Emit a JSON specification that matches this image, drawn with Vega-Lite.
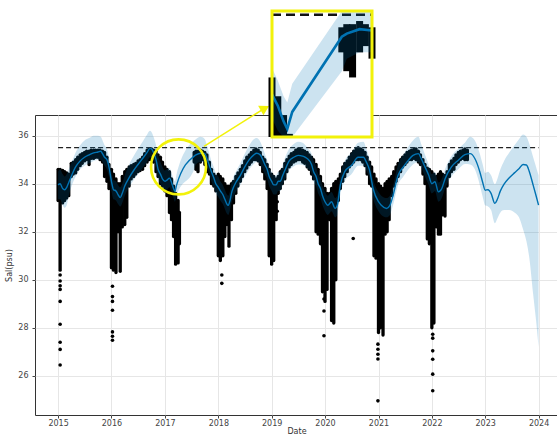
{
  "$schema": "https://vega.github.io/schema/vega-lite/v6.json",
  "width": 523,
  "height": 300,
  "autosize": {"type": "none"},
  "padding": {"left": 35, "top": 115, "right": 0, "bottom": 24},
  "background": "white",
  "config": {
    "font": "DejaVu Sans",
    "view": {"stroke": "#333333", "strokeWidth": 1},
    "axis": {
      "labelFont": "DejaVu Sans", "labelFontSize": 8, "labelColor": "#444444",
      "titleFont": "DejaVu Sans", "titleFontSize": 8, "titleFontWeight": "normal", "titleColor": "#333333",
      "tickColor": "#444444", "tickSize": 3, "gridColor": "#e6e6e6", "gridWidth": 1, "domain": false
    }
  },
  "datasets": {
    "fcst": [
      {"ds": "2015-01-01", "yhat": 33.95, "yhat_lower": 33.35, "yhat_upper": 34.5, "cap": 35.5},
      {"ds": "2015-01-15", "yhat": 34.0, "yhat_lower": 33.35, "yhat_upper": 34.6, "cap": 35.5},
      {"ds": "2015-02-01", "yhat": 33.8, "yhat_lower": 33.1, "yhat_upper": 34.4, "cap": 35.5},
      {"ds": "2015-02-15", "yhat": 33.75, "yhat_lower": 33.0, "yhat_upper": 34.3, "cap": 35.5},
      {"ds": "2015-03-01", "yhat": 33.85, "yhat_lower": 33.1, "yhat_upper": 34.4, "cap": 35.5},
      {"ds": "2015-03-15", "yhat": 34.05, "yhat_lower": 33.5, "yhat_upper": 34.6, "cap": 35.5},
      {"ds": "2015-04-01", "yhat": 34.3, "yhat_lower": 33.85, "yhat_upper": 34.85, "cap": 35.5},
      {"ds": "2015-05-01", "yhat": 34.7, "yhat_lower": 34.3, "yhat_upper": 35.3, "cap": 35.5},
      {"ds": "2015-06-01", "yhat": 34.95, "yhat_lower": 34.6, "yhat_upper": 35.6, "cap": 35.5},
      {"ds": "2015-07-01", "yhat": 35.1, "yhat_lower": 34.75, "yhat_upper": 35.8, "cap": 35.5},
      {"ds": "2015-08-01", "yhat": 35.2, "yhat_lower": 34.85, "yhat_upper": 35.9, "cap": 35.5},
      {"ds": "2015-09-01", "yhat": 35.28, "yhat_lower": 34.95, "yhat_upper": 36.0, "cap": 35.5},
      {"ds": "2015-10-01", "yhat": 35.32, "yhat_lower": 35.0, "yhat_upper": 36.0, "cap": 35.5},
      {"ds": "2015-10-20", "yhat": 35.35, "yhat_lower": 35.0, "yhat_upper": 35.95, "cap": 35.5},
      {"ds": "2015-11-01", "yhat": 35.25, "yhat_lower": 34.9, "yhat_upper": 35.8, "cap": 35.5},
      {"ds": "2015-11-15", "yhat": 35.1, "yhat_lower": 34.75, "yhat_upper": 35.6, "cap": 35.5},
      {"ds": "2015-12-01", "yhat": 35.0, "yhat_lower": 34.6, "yhat_upper": 35.45, "cap": 35.5},
      {"ds": "2015-12-15", "yhat": 34.7, "yhat_lower": 34.3, "yhat_upper": 35.1, "cap": 35.5},
      {"ds": "2016-01-01", "yhat": 34.1, "yhat_lower": 33.7, "yhat_upper": 34.5, "cap": 35.5},
      {"ds": "2016-01-15", "yhat": 33.75, "yhat_lower": 33.35, "yhat_upper": 34.15, "cap": 35.5},
      {"ds": "2016-02-01", "yhat": 33.7, "yhat_lower": 33.3, "yhat_upper": 34.1, "cap": 35.5},
      {"ds": "2016-02-15", "yhat": 33.55, "yhat_lower": 33.15, "yhat_upper": 33.95, "cap": 35.5},
      {"ds": "2016-03-01", "yhat": 33.42, "yhat_lower": 33.05, "yhat_upper": 33.85, "cap": 35.5},
      {"ds": "2016-03-15", "yhat": 33.6, "yhat_lower": 33.2, "yhat_upper": 34.0, "cap": 35.5},
      {"ds": "2016-04-01", "yhat": 33.9, "yhat_lower": 33.5, "yhat_upper": 34.35, "cap": 35.5},
      {"ds": "2016-05-01", "yhat": 34.25, "yhat_lower": 33.85, "yhat_upper": 34.8, "cap": 35.5},
      {"ds": "2016-06-01", "yhat": 34.55, "yhat_lower": 34.15, "yhat_upper": 35.15, "cap": 35.5},
      {"ds": "2016-07-01", "yhat": 34.8, "yhat_lower": 34.4, "yhat_upper": 35.45, "cap": 35.5},
      {"ds": "2016-08-01", "yhat": 35.05, "yhat_lower": 34.65, "yhat_upper": 35.75, "cap": 35.5},
      {"ds": "2016-09-01", "yhat": 35.3, "yhat_lower": 34.9, "yhat_upper": 36.05, "cap": 35.5},
      {"ds": "2016-09-20", "yhat": 35.47, "yhat_lower": 35.1, "yhat_upper": 36.2, "cap": 35.5},
      {"ds": "2016-10-01", "yhat": 35.45, "yhat_lower": 35.1, "yhat_upper": 36.15, "cap": 35.5},
      {"ds": "2016-10-15", "yhat": 35.3, "yhat_lower": 34.95, "yhat_upper": 35.95, "cap": 35.5},
      {"ds": "2016-11-01", "yhat": 35.0, "yhat_lower": 34.6, "yhat_upper": 35.6, "cap": 35.5},
      {"ds": "2016-11-15", "yhat": 34.6, "yhat_lower": 34.2, "yhat_upper": 35.15, "cap": 35.5},
      {"ds": "2016-12-01", "yhat": 34.4, "yhat_lower": 34.0, "yhat_upper": 34.9, "cap": 35.5},
      {"ds": "2016-12-15", "yhat": 34.2, "yhat_lower": 33.8, "yhat_upper": 34.7, "cap": 35.5},
      {"ds": "2017-01-01", "yhat": 34.1, "yhat_lower": 33.7, "yhat_upper": 34.55, "cap": 35.5},
      {"ds": "2017-01-15", "yhat": 34.15, "yhat_lower": 33.75, "yhat_upper": 34.6, "cap": 35.5},
      {"ds": "2017-02-01", "yhat": 34.23, "yhat_lower": 33.85, "yhat_upper": 34.65, "cap": 35.5},
      {"ds": "2017-02-15", "yhat": 34.05, "yhat_lower": 33.65, "yhat_upper": 34.45, "cap": 35.5},
      {"ds": "2017-03-01", "yhat": 33.8, "yhat_lower": 33.4, "yhat_upper": 34.2, "cap": 35.5},
      {"ds": "2017-03-10", "yhat": 33.68, "yhat_lower": 33.25, "yhat_upper": 34.1, "cap": 35.5},
      {"ds": "2017-03-22", "yhat": 33.95, "yhat_lower": 33.5, "yhat_upper": 34.4, "cap": 35.5},
      {"ds": "2017-07-20", "yhat": 35.15, "yhat_lower": 34.6, "yhat_upper": 35.8, "cap": 35.5},
      {"ds": "2017-08-01", "yhat": 35.2, "yhat_lower": 34.8, "yhat_upper": 35.85, "cap": 35.5},
      {"ds": "2017-09-01", "yhat": 35.27, "yhat_lower": 34.9, "yhat_upper": 35.95, "cap": 35.5},
      {"ds": "2017-10-01", "yhat": 35.25, "yhat_lower": 34.9, "yhat_upper": 35.85, "cap": 35.5},
      {"ds": "2017-10-15", "yhat": 35.05, "yhat_lower": 34.7, "yhat_upper": 35.6, "cap": 35.5},
      {"ds": "2017-11-01", "yhat": 34.75, "yhat_lower": 34.4, "yhat_upper": 35.25, "cap": 35.5},
      {"ds": "2017-11-15", "yhat": 34.5, "yhat_lower": 34.1, "yhat_upper": 34.95, "cap": 35.5},
      {"ds": "2017-12-01", "yhat": 34.25, "yhat_lower": 33.85, "yhat_upper": 34.7, "cap": 35.5},
      {"ds": "2017-12-15", "yhat": 34.0, "yhat_lower": 33.6, "yhat_upper": 34.45, "cap": 35.5},
      {"ds": "2018-01-01", "yhat": 33.85, "yhat_lower": 33.45, "yhat_upper": 34.3, "cap": 35.5},
      {"ds": "2018-01-15", "yhat": 33.7, "yhat_lower": 33.3, "yhat_upper": 34.1, "cap": 35.5},
      {"ds": "2018-02-01", "yhat": 33.55, "yhat_lower": 33.15, "yhat_upper": 33.95, "cap": 35.5},
      {"ds": "2018-02-15", "yhat": 33.35, "yhat_lower": 32.95, "yhat_upper": 33.75, "cap": 35.5},
      {"ds": "2018-03-01", "yhat": 33.15, "yhat_lower": 32.75, "yhat_upper": 33.55, "cap": 35.5},
      {"ds": "2018-03-10", "yhat": 33.1, "yhat_lower": 32.7, "yhat_upper": 33.5, "cap": 35.5},
      {"ds": "2018-03-22", "yhat": 33.3, "yhat_lower": 32.9, "yhat_upper": 33.7, "cap": 35.5},
      {"ds": "2018-04-01", "yhat": 33.6, "yhat_lower": 33.2, "yhat_upper": 34.0, "cap": 35.5},
      {"ds": "2018-04-15", "yhat": 33.85, "yhat_lower": 33.45, "yhat_upper": 34.3, "cap": 35.5},
      {"ds": "2018-05-01", "yhat": 34.05, "yhat_lower": 33.65, "yhat_upper": 34.5, "cap": 35.5},
      {"ds": "2018-06-01", "yhat": 34.35, "yhat_lower": 33.95, "yhat_upper": 34.85, "cap": 35.5},
      {"ds": "2018-07-01", "yhat": 34.7, "yhat_lower": 34.3, "yhat_upper": 35.25, "cap": 35.5},
      {"ds": "2018-08-01", "yhat": 35.0, "yhat_lower": 34.6, "yhat_upper": 35.6, "cap": 35.5},
      {"ds": "2018-09-01", "yhat": 35.2, "yhat_lower": 34.82, "yhat_upper": 35.85, "cap": 35.5},
      {"ds": "2018-09-20", "yhat": 35.27, "yhat_lower": 34.9, "yhat_upper": 35.9, "cap": 35.5},
      {"ds": "2018-10-15", "yhat": 35.2, "yhat_lower": 34.82, "yhat_upper": 35.75, "cap": 35.5},
      {"ds": "2018-11-01", "yhat": 35.0, "yhat_lower": 34.6, "yhat_upper": 35.5, "cap": 35.5},
      {"ds": "2018-11-15", "yhat": 34.8, "yhat_lower": 34.4, "yhat_upper": 35.25, "cap": 35.5},
      {"ds": "2018-12-01", "yhat": 34.6, "yhat_lower": 34.2, "yhat_upper": 35.0, "cap": 35.5},
      {"ds": "2018-12-15", "yhat": 34.3, "yhat_lower": 33.9, "yhat_upper": 34.7, "cap": 35.5},
      {"ds": "2019-01-01", "yhat": 34.1, "yhat_lower": 33.7, "yhat_upper": 34.5, "cap": 35.5},
      {"ds": "2019-01-15", "yhat": 33.95, "yhat_lower": 33.55, "yhat_upper": 34.35, "cap": 35.5},
      {"ds": "2019-02-01", "yhat": 33.95, "yhat_lower": 33.55, "yhat_upper": 34.35, "cap": 35.5},
      {"ds": "2019-02-15", "yhat": 34.1, "yhat_lower": 33.7, "yhat_upper": 34.5, "cap": 35.5},
      {"ds": "2019-03-01", "yhat": 34.1, "yhat_lower": 33.7, "yhat_upper": 34.5, "cap": 35.5},
      {"ds": "2019-03-15", "yhat": 34.3, "yhat_lower": 33.9, "yhat_upper": 34.75, "cap": 35.5},
      {"ds": "2019-04-01", "yhat": 34.55, "yhat_lower": 34.15, "yhat_upper": 35.05, "cap": 35.5},
      {"ds": "2019-05-01", "yhat": 34.95, "yhat_lower": 34.55, "yhat_upper": 35.45, "cap": 35.5},
      {"ds": "2019-06-01", "yhat": 35.1, "yhat_lower": 34.72, "yhat_upper": 35.65, "cap": 35.5},
      {"ds": "2019-07-01", "yhat": 35.18, "yhat_lower": 34.8, "yhat_upper": 35.75, "cap": 35.5},
      {"ds": "2019-08-01", "yhat": 35.15, "yhat_lower": 34.78, "yhat_upper": 35.7, "cap": 35.5},
      {"ds": "2019-08-20", "yhat": 35.1, "yhat_lower": 34.72, "yhat_upper": 35.6, "cap": 35.5},
      {"ds": "2019-09-01", "yhat": 35.05, "yhat_lower": 34.65, "yhat_upper": 35.5, "cap": 35.5},
      {"ds": "2019-10-01", "yhat": 34.8, "yhat_lower": 34.42, "yhat_upper": 35.25, "cap": 35.5},
      {"ds": "2019-10-15", "yhat": 34.5, "yhat_lower": 34.1, "yhat_upper": 34.95, "cap": 35.5},
      {"ds": "2019-11-01", "yhat": 34.3, "yhat_lower": 33.9, "yhat_upper": 34.7, "cap": 35.5},
      {"ds": "2019-11-15", "yhat": 34.0, "yhat_lower": 33.6, "yhat_upper": 34.4, "cap": 35.5},
      {"ds": "2019-12-01", "yhat": 33.8, "yhat_lower": 33.4, "yhat_upper": 34.2, "cap": 35.5},
      {"ds": "2019-12-15", "yhat": 33.5, "yhat_lower": 33.1, "yhat_upper": 33.9, "cap": 35.5},
      {"ds": "2020-01-01", "yhat": 33.25, "yhat_lower": 32.85, "yhat_upper": 33.65, "cap": 35.5},
      {"ds": "2020-01-20", "yhat": 33.1, "yhat_lower": 32.7, "yhat_upper": 33.5, "cap": 35.5},
      {"ds": "2020-02-15", "yhat": 33.25, "yhat_lower": 32.85, "yhat_upper": 33.65, "cap": 35.5},
      {"ds": "2020-03-10", "yhat": 32.97, "yhat_lower": 32.6, "yhat_upper": 33.4, "cap": 35.5},
      {"ds": "2020-03-25", "yhat": 33.1, "yhat_lower": 32.7, "yhat_upper": 33.5, "cap": 35.5},
      {"ds": "2020-04-15", "yhat": 33.94, "yhat_lower": 33.55, "yhat_upper": 34.35, "cap": 35.5},
      {"ds": "2020-05-15", "yhat": 34.5, "yhat_lower": 34.1, "yhat_upper": 34.95, "cap": 35.5},
      {"ds": "2020-07-01", "yhat": 34.77, "yhat_lower": 34.4, "yhat_upper": 35.3, "cap": 35.5},
      {"ds": "2020-08-15", "yhat": 35.1, "yhat_lower": 34.75, "yhat_upper": 35.7, "cap": 35.5},
      {"ds": "2020-09-20", "yhat": 35.1, "yhat_lower": 34.75, "yhat_upper": 35.75, "cap": 35.5},
      {"ds": "2020-10-10", "yhat": 34.9, "yhat_lower": 34.55, "yhat_upper": 35.45, "cap": 35.5},
      {"ds": "2020-11-01", "yhat": 34.56, "yhat_lower": 34.2, "yhat_upper": 35.0, "cap": 35.5},
      {"ds": "2020-11-25", "yhat": 33.8, "yhat_lower": 33.4, "yhat_upper": 34.2, "cap": 35.5},
      {"ds": "2021-01-01", "yhat": 33.25, "yhat_lower": 32.85, "yhat_upper": 33.65, "cap": 35.5},
      {"ds": "2021-01-20", "yhat": 33.1, "yhat_lower": 32.7, "yhat_upper": 33.5, "cap": 35.5},
      {"ds": "2021-02-25", "yhat": 32.97, "yhat_lower": 32.6, "yhat_upper": 33.4, "cap": 35.5},
      {"ds": "2021-03-20", "yhat": 33.1, "yhat_lower": 32.7, "yhat_upper": 33.5, "cap": 35.5},
      {"ds": "2021-04-10", "yhat": 33.5, "yhat_lower": 33.1, "yhat_upper": 33.9, "cap": 35.5},
      {"ds": "2021-05-15", "yhat": 34.35, "yhat_lower": 33.95, "yhat_upper": 34.8, "cap": 35.5},
      {"ds": "2021-06-20", "yhat": 34.7, "yhat_lower": 34.3, "yhat_upper": 35.2, "cap": 35.5},
      {"ds": "2021-07-25", "yhat": 34.98, "yhat_lower": 34.6, "yhat_upper": 35.55, "cap": 35.5},
      {"ds": "2021-08-25", "yhat": 35.18, "yhat_lower": 34.8, "yhat_upper": 35.8, "cap": 35.5},
      {"ds": "2021-10-01", "yhat": 35.25, "yhat_lower": 34.9, "yhat_upper": 35.95, "cap": 35.5},
      {"ds": "2021-10-20", "yhat": 35.05, "yhat_lower": 34.7, "yhat_upper": 35.65, "cap": 35.5},
      {"ds": "2021-11-15", "yhat": 34.7, "yhat_lower": 34.3, "yhat_upper": 35.2, "cap": 35.5},
      {"ds": "2021-12-10", "yhat": 34.36, "yhat_lower": 33.95, "yhat_upper": 34.8, "cap": 35.5},
      {"ds": "2022-01-01", "yhat": 34.0, "yhat_lower": 33.6, "yhat_upper": 34.4, "cap": 35.5},
      {"ds": "2022-01-22", "yhat": 34.08, "yhat_lower": 33.7, "yhat_upper": 34.5, "cap": 35.5},
      {"ds": "2022-02-15", "yhat": 33.66, "yhat_lower": 33.25, "yhat_upper": 34.05, "cap": 35.5},
      {"ds": "2022-03-10", "yhat": 33.8, "yhat_lower": 33.4, "yhat_upper": 34.2, "cap": 35.5},
      {"ds": "2022-04-01", "yhat": 34.2, "yhat_lower": 33.8, "yhat_upper": 34.6, "cap": 35.5},
      {"ds": "2022-05-15", "yhat": 34.7, "yhat_lower": 34.3, "yhat_upper": 35.15, "cap": 35.5},
      {"ds": "2022-07-01", "yhat": 34.98, "yhat_lower": 34.6, "yhat_upper": 35.45, "cap": 35.5},
      {"ds": "2022-08-15", "yhat": 35.21, "yhat_lower": 34.82, "yhat_upper": 35.7, "cap": 35.5},
      {"ds": "2022-09-20", "yhat": 35.25, "yhat_lower": 34.8, "yhat_upper": 35.95, "cap": 35.5},
      {"ds": "2022-10-22", "yhat": 35.05, "yhat_lower": 34.6, "yhat_upper": 35.8, "cap": 35.5},
      {"ds": "2022-11-25", "yhat": 34.5, "yhat_lower": 33.95, "yhat_upper": 35.25, "cap": 35.5},
      {"ds": "2022-12-15", "yhat": 34.05, "yhat_lower": 33.45, "yhat_upper": 34.8, "cap": 35.5},
      {"ds": "2023-01-01", "yhat": 33.73, "yhat_lower": 33.1, "yhat_upper": 34.45, "cap": 35.5},
      {"ds": "2023-01-20", "yhat": 33.75, "yhat_lower": 33.05, "yhat_upper": 34.5, "cap": 35.5},
      {"ds": "2023-02-10", "yhat": 33.6, "yhat_lower": 32.9, "yhat_upper": 34.35, "cap": 35.5},
      {"ds": "2023-03-08", "yhat": 33.18, "yhat_lower": 32.35, "yhat_upper": 33.98, "cap": 35.5},
      {"ds": "2023-03-25", "yhat": 33.35, "yhat_lower": 32.55, "yhat_upper": 34.2, "cap": 35.5},
      {"ds": "2023-04-15", "yhat": 33.7, "yhat_lower": 32.8, "yhat_upper": 34.6, "cap": 35.5},
      {"ds": "2023-05-10", "yhat": 33.98, "yhat_lower": 32.9, "yhat_upper": 34.95, "cap": 35.5},
      {"ds": "2023-06-15", "yhat": 34.25, "yhat_lower": 32.9, "yhat_upper": 35.3, "cap": 35.5},
      {"ds": "2023-07-20", "yhat": 34.45, "yhat_lower": 32.8, "yhat_upper": 35.6, "cap": 35.5},
      {"ds": "2023-08-20", "yhat": 34.62, "yhat_lower": 32.6, "yhat_upper": 35.85, "cap": 35.5},
      {"ds": "2023-09-17", "yhat": 34.8, "yhat_lower": 32.1, "yhat_upper": 36.05, "cap": 35.5},
      {"ds": "2023-10-10", "yhat": 34.78, "yhat_lower": 31.6, "yhat_upper": 35.95, "cap": 35.5},
      {"ds": "2023-10-30", "yhat": 34.5, "yhat_lower": 30.9, "yhat_upper": 35.65, "cap": 35.5},
      {"ds": "2023-11-25", "yhat": 33.94, "yhat_lower": 29.4, "yhat_upper": 35.1, "cap": 35.5},
      {"ds": "2023-12-15", "yhat": 33.5, "yhat_lower": 28.3, "yhat_upper": 34.7, "cap": 35.5},
      {"ds": "2024-01-01", "yhat": 33.11, "yhat_lower": 27.2, "yhat_upper": 34.35, "cap": 35.5}
    ],
    "obs": [
      {"ds": "2015-01-01", "y_min": 33.3, "y_max": 34.6},
      {"ds": "2015-01-15", "y_min": 30.4, "y_max": 34.6},
      {"ds": "2015-02-01", "y_min": 33.2, "y_max": 34.55},
      {"ds": "2015-02-15", "y_min": 33.3, "y_max": 34.5},
      {"ds": "2015-03-01", "y_min": 33.4, "y_max": 34.45},
      {"ds": "2015-03-15", "y_min": 33.5, "y_max": 34.4},
      {"ds": "2015-04-01", "y_min": 34.3, "y_max": 34.85},
      {"ds": "2015-04-15", "y_min": 34.4, "y_max": 34.9},
      {"ds": "2015-05-01", "y_min": 34.45, "y_max": 35.0},
      {"ds": "2015-05-15", "y_min": 34.6, "y_max": 35.1},
      {"ds": "2015-06-01", "y_min": 34.75, "y_max": 35.2},
      {"ds": "2015-06-15", "y_min": 34.85, "y_max": 35.25},
      {"ds": "2015-07-01", "y_min": 34.95, "y_max": 35.3},
      {"ds": "2015-07-15", "y_min": 35.0, "y_max": 35.35},
      {"ds": "2015-08-01", "y_min": 34.8, "y_max": 35.35},
      {"ds": "2015-08-15", "y_min": 35.05, "y_max": 35.4},
      {"ds": "2015-09-01", "y_min": 35.05, "y_max": 35.4},
      {"ds": "2015-09-15", "y_min": 35.1, "y_max": 35.4},
      {"ds": "2015-10-01", "y_min": 35.1, "y_max": 35.4},
      {"ds": "2015-10-15", "y_min": 35.0, "y_max": 35.4},
      {"ds": "2015-11-01", "y_min": 34.9, "y_max": 35.35},
      {"ds": "2015-11-15", "y_min": 34.3, "y_max": 35.3},
      {"ds": "2015-12-01", "y_min": 34.1, "y_max": 35.1},
      {"ds": "2015-12-15", "y_min": 33.8, "y_max": 34.8},
      {"ds": "2016-01-01", "y_min": 30.5, "y_max": 34.6},
      {"ds": "2016-01-15", "y_min": 30.4, "y_max": 34.4},
      {"ds": "2016-02-01", "y_min": 30.3, "y_max": 34.2},
      {"ds": "2016-02-15", "y_min": 32.0, "y_max": 34.0},
      {"ds": "2016-03-01", "y_min": 30.35, "y_max": 34.0},
      {"ds": "2016-03-15", "y_min": 32.2, "y_max": 34.3},
      {"ds": "2016-04-01", "y_min": 32.3, "y_max": 34.5},
      {"ds": "2016-04-15", "y_min": 32.6, "y_max": 34.6},
      {"ds": "2016-05-01", "y_min": 33.9, "y_max": 34.7},
      {"ds": "2016-05-15", "y_min": 34.2, "y_max": 34.75},
      {"ds": "2016-06-01", "y_min": 34.3, "y_max": 34.8},
      {"ds": "2016-06-15", "y_min": 34.4, "y_max": 34.85},
      {"ds": "2016-07-01", "y_min": 34.5, "y_max": 34.95},
      {"ds": "2016-07-15", "y_min": 34.55, "y_max": 35.0},
      {"ds": "2016-08-01", "y_min": 34.6, "y_max": 35.1},
      {"ds": "2016-08-15", "y_min": 34.75, "y_max": 35.25},
      {"ds": "2016-09-01", "y_min": 34.9, "y_max": 35.4},
      {"ds": "2016-09-15", "y_min": 35.0, "y_max": 35.45},
      {"ds": "2016-10-01", "y_min": 35.0, "y_max": 35.45},
      {"ds": "2016-10-15", "y_min": 34.9, "y_max": 35.4},
      {"ds": "2016-11-01", "y_min": 34.5, "y_max": 35.35},
      {"ds": "2016-11-15", "y_min": 34.3, "y_max": 35.2},
      {"ds": "2016-12-01", "y_min": 34.0, "y_max": 35.1},
      {"ds": "2016-12-15", "y_min": 33.9, "y_max": 34.9},
      {"ds": "2017-01-01", "y_min": 33.7, "y_max": 34.7},
      {"ds": "2017-01-15", "y_min": 33.5, "y_max": 34.6},
      {"ds": "2017-02-01", "y_min": 32.8, "y_max": 34.5},
      {"ds": "2017-02-15", "y_min": 32.5, "y_max": 34.2},
      {"ds": "2017-03-01", "y_min": 31.8, "y_max": 33.9},
      {"ds": "2017-03-15", "y_min": 30.65, "y_max": 33.6},
      {"ds": "2017-04-01", "y_min": 30.7, "y_max": 33.3},
      {"ds": "2017-04-10", "y_min": 31.5, "y_max": 32.8},
      {"ds": "2017-07-20", "y_min": 34.9, "y_max": 35.3},
      {"ds": "2017-08-01", "y_min": 34.6, "y_max": 35.35},
      {"ds": "2017-08-15", "y_min": 34.5, "y_max": 35.35},
      {"ds": "2017-09-01", "y_min": 34.9, "y_max": 35.4},
      {"ds": "2017-09-15", "y_min": 35.0, "y_max": 35.35},
      {"ds": "2017-10-01", "y_min": 34.8, "y_max": 35.3},
      {"ds": "2017-10-15", "y_min": 34.5, "y_max": 35.2},
      {"ds": "2017-11-01", "y_min": 34.4, "y_max": 34.9},
      {"ds": "2017-11-15", "y_min": 34.0, "y_max": 34.6},
      {"ds": "2017-12-01", "y_min": 33.9, "y_max": 34.4},
      {"ds": "2017-12-15", "y_min": 33.7, "y_max": 34.3},
      {"ds": "2018-01-01", "y_min": 31.0, "y_max": 34.4},
      {"ds": "2018-01-15", "y_min": 30.8, "y_max": 34.3},
      {"ds": "2018-02-01", "y_min": 31.0, "y_max": 34.2},
      {"ds": "2018-02-15", "y_min": 31.8, "y_max": 34.0},
      {"ds": "2018-03-01", "y_min": 32.3, "y_max": 33.9},
      {"ds": "2018-03-15", "y_min": 31.4, "y_max": 33.9},
      {"ds": "2018-04-01", "y_min": 32.5, "y_max": 34.0},
      {"ds": "2018-04-15", "y_min": 33.2, "y_max": 34.1},
      {"ds": "2018-05-01", "y_min": 33.6, "y_max": 34.3},
      {"ds": "2018-05-15", "y_min": 33.9, "y_max": 34.45},
      {"ds": "2018-06-01", "y_min": 34.1, "y_max": 34.6},
      {"ds": "2018-06-15", "y_min": 34.3, "y_max": 34.75},
      {"ds": "2018-07-01", "y_min": 34.5, "y_max": 34.95},
      {"ds": "2018-07-15", "y_min": 34.65, "y_max": 35.1},
      {"ds": "2018-08-01", "y_min": 34.8, "y_max": 35.2},
      {"ds": "2018-08-15", "y_min": 34.9, "y_max": 35.3},
      {"ds": "2018-09-01", "y_min": 35.0, "y_max": 35.4},
      {"ds": "2018-09-15", "y_min": 35.0, "y_max": 35.45},
      {"ds": "2018-10-01", "y_min": 34.95, "y_max": 35.4},
      {"ds": "2018-10-15", "y_min": 34.8, "y_max": 35.3},
      {"ds": "2018-11-01", "y_min": 34.5, "y_max": 35.1},
      {"ds": "2018-11-15", "y_min": 34.2, "y_max": 35.0},
      {"ds": "2018-12-01", "y_min": 33.8, "y_max": 34.8},
      {"ds": "2018-12-15", "y_min": 31.0, "y_max": 34.6},
      {"ds": "2019-01-01", "y_min": 30.65, "y_max": 34.4},
      {"ds": "2019-01-15", "y_min": 30.8, "y_max": 34.3},
      {"ds": "2019-02-01", "y_min": 32.5, "y_max": 34.2},
      {"ds": "2019-02-15", "y_min": 33.6, "y_max": 34.3},
      {"ds": "2019-03-01", "y_min": 33.8, "y_max": 34.5},
      {"ds": "2019-03-15", "y_min": 34.0, "y_max": 34.6},
      {"ds": "2019-04-01", "y_min": 34.2, "y_max": 34.85},
      {"ds": "2019-04-15", "y_min": 34.5, "y_max": 35.0},
      {"ds": "2019-05-01", "y_min": 34.7, "y_max": 35.15},
      {"ds": "2019-05-15", "y_min": 34.8, "y_max": 35.25},
      {"ds": "2019-06-01", "y_min": 34.9, "y_max": 35.3},
      {"ds": "2019-06-15", "y_min": 34.95, "y_max": 35.4},
      {"ds": "2019-07-01", "y_min": 35.0, "y_max": 35.45},
      {"ds": "2019-07-15", "y_min": 35.0, "y_max": 35.45},
      {"ds": "2019-08-01", "y_min": 34.9, "y_max": 35.4},
      {"ds": "2019-08-15", "y_min": 34.85, "y_max": 35.35},
      {"ds": "2019-09-01", "y_min": 34.7, "y_max": 35.3},
      {"ds": "2019-09-15", "y_min": 34.6, "y_max": 35.2},
      {"ds": "2019-10-01", "y_min": 34.4, "y_max": 35.1},
      {"ds": "2019-10-15", "y_min": 34.2, "y_max": 35.0},
      {"ds": "2019-11-01", "y_min": 32.0, "y_max": 34.8},
      {"ds": "2019-11-15", "y_min": 31.9, "y_max": 34.6},
      {"ds": "2019-12-01", "y_min": 31.5, "y_max": 34.3},
      {"ds": "2019-12-15", "y_min": 29.5, "y_max": 34.0},
      {"ds": "2020-01-01", "y_min": 29.1, "y_max": 33.8},
      {"ds": "2020-01-15", "y_min": 29.6, "y_max": 33.6},
      {"ds": "2020-02-01", "y_min": 32.5, "y_max": 33.6},
      {"ds": "2020-02-15", "y_min": 28.3, "y_max": 33.8},
      {"ds": "2020-03-01", "y_min": 28.2, "y_max": 34.0},
      {"ds": "2020-03-15", "y_min": 30.0, "y_max": 34.1},
      {"ds": "2020-04-01", "y_min": 33.3, "y_max": 34.2},
      {"ds": "2020-04-15", "y_min": 33.8, "y_max": 34.4},
      {"ds": "2020-05-01", "y_min": 34.1, "y_max": 34.7},
      {"ds": "2020-05-15", "y_min": 34.3, "y_max": 34.85},
      {"ds": "2020-06-01", "y_min": 34.5, "y_max": 34.95},
      {"ds": "2020-06-15", "y_min": 34.7, "y_max": 35.1},
      {"ds": "2020-07-01", "y_min": 34.8, "y_max": 35.25},
      {"ds": "2020-07-15", "y_min": 34.9, "y_max": 35.35},
      {"ds": "2020-08-01", "y_min": 35.0, "y_max": 35.45},
      {"ds": "2020-08-15", "y_min": 35.0, "y_max": 35.5},
      {"ds": "2020-09-01", "y_min": 35.0, "y_max": 35.45},
      {"ds": "2020-09-15", "y_min": 34.9, "y_max": 35.4},
      {"ds": "2020-10-01", "y_min": 34.75, "y_max": 35.3},
      {"ds": "2020-10-15", "y_min": 34.4, "y_max": 35.1},
      {"ds": "2020-11-01", "y_min": 34.0, "y_max": 34.9},
      {"ds": "2020-11-15", "y_min": 33.9, "y_max": 34.7},
      {"ds": "2020-12-01", "y_min": 31.0, "y_max": 34.4},
      {"ds": "2020-12-15", "y_min": 30.9, "y_max": 34.2},
      {"ds": "2021-01-01", "y_min": 27.8, "y_max": 34.0},
      {"ds": "2021-01-15", "y_min": 28.0, "y_max": 33.9},
      {"ds": "2021-02-01", "y_min": 27.7, "y_max": 33.8},
      {"ds": "2021-02-15", "y_min": 31.9, "y_max": 34.0},
      {"ds": "2021-03-01", "y_min": 32.0, "y_max": 34.1},
      {"ds": "2021-03-15", "y_min": 32.5, "y_max": 34.2},
      {"ds": "2021-04-01", "y_min": 33.5, "y_max": 34.3},
      {"ds": "2021-04-15", "y_min": 33.9, "y_max": 34.5},
      {"ds": "2021-05-01", "y_min": 34.1, "y_max": 34.7},
      {"ds": "2021-05-15", "y_min": 34.3, "y_max": 34.85},
      {"ds": "2021-06-01", "y_min": 34.5, "y_max": 35.0},
      {"ds": "2021-06-15", "y_min": 34.7, "y_max": 35.1},
      {"ds": "2021-07-01", "y_min": 34.8, "y_max": 35.2},
      {"ds": "2021-07-15", "y_min": 34.9, "y_max": 35.3},
      {"ds": "2021-08-01", "y_min": 35.0, "y_max": 35.35},
      {"ds": "2021-08-15", "y_min": 35.0, "y_max": 35.4},
      {"ds": "2021-09-01", "y_min": 35.05, "y_max": 35.45},
      {"ds": "2021-09-15", "y_min": 35.0, "y_max": 35.45},
      {"ds": "2021-10-01", "y_min": 34.9, "y_max": 35.35},
      {"ds": "2021-10-15", "y_min": 34.8, "y_max": 35.2},
      {"ds": "2021-11-01", "y_min": 34.4, "y_max": 35.0},
      {"ds": "2021-11-15", "y_min": 34.0, "y_max": 34.8},
      {"ds": "2021-12-01", "y_min": 31.7, "y_max": 34.65},
      {"ds": "2021-12-15", "y_min": 31.5, "y_max": 34.6},
      {"ds": "2022-01-01", "y_min": 28.0, "y_max": 34.5},
      {"ds": "2022-01-15", "y_min": 28.2, "y_max": 34.4},
      {"ds": "2022-02-01", "y_min": 32.2, "y_max": 34.3},
      {"ds": "2022-02-15", "y_min": 31.9, "y_max": 34.4},
      {"ds": "2022-03-01", "y_min": 31.9, "y_max": 34.5},
      {"ds": "2022-03-15", "y_min": 32.7, "y_max": 34.4},
      {"ds": "2022-04-01", "y_min": 32.65, "y_max": 34.35},
      {"ds": "2022-04-15", "y_min": 33.9, "y_max": 34.5},
      {"ds": "2022-05-01", "y_min": 34.3, "y_max": 34.8},
      {"ds": "2022-05-15", "y_min": 34.5, "y_max": 34.95},
      {"ds": "2022-06-01", "y_min": 34.6, "y_max": 35.05},
      {"ds": "2022-06-15", "y_min": 34.8, "y_max": 35.2},
      {"ds": "2022-07-01", "y_min": 34.9, "y_max": 35.3},
      {"ds": "2022-07-15", "y_min": 35.0, "y_max": 35.35},
      {"ds": "2022-08-01", "y_min": 35.05, "y_max": 35.4},
      {"ds": "2022-08-15", "y_min": 35.0, "y_max": 35.45},
      {"ds": "2022-09-01", "y_min": 35.0, "y_max": 35.4}
    ],
    "pts": [
      {"ds": "2015-01-15", "y": 30.2}, {"ds": "2015-01-15", "y": 29.95}, {"ds": "2015-01-15", "y": 29.75},
      {"ds": "2015-01-15", "y": 29.6}, {"ds": "2015-01-15", "y": 29.1}, {"ds": "2015-01-15", "y": 28.15},
      {"ds": "2015-01-15", "y": 27.4}, {"ds": "2015-01-15", "y": 27.1}, {"ds": "2015-01-15", "y": 26.45},
      {"ds": "2016-01-08", "y": 29.73}, {"ds": "2016-01-08", "y": 29.3}, {"ds": "2016-01-08", "y": 29.1},
      {"ds": "2016-01-08", "y": 28.73}, {"ds": "2016-01-08", "y": 27.83}, {"ds": "2016-01-08", "y": 27.65},
      {"ds": "2016-01-08", "y": 27.48},
      {"ds": "2018-01-25", "y": 30.2}, {"ds": "2018-01-25", "y": 29.85},
      {"ds": "2019-02-08", "y": 33.6}, {"ds": "2019-02-08", "y": 33.25}, {"ds": "2019-02-08", "y": 32.85},
      {"ds": "2019-12-25", "y": 29.2}, {"ds": "2019-12-25", "y": 28.7}, {"ds": "2019-12-25", "y": 27.67},
      {"ds": "2020-07-12", "y": 31.72},
      {"ds": "2020-12-28", "y": 27.32}, {"ds": "2020-12-28", "y": 27.11}, {"ds": "2020-12-28", "y": 26.9},
      {"ds": "2020-12-28", "y": 26.7}, {"ds": "2020-12-28", "y": 24.96},
      {"ds": "2022-01-07", "y": 27.73}, {"ds": "2022-01-07", "y": 27.57}, {"ds": "2022-01-07", "y": 27.04},
      {"ds": "2022-01-07", "y": 26.69}, {"ds": "2022-01-07", "y": 26.07}, {"ds": "2022-01-07", "y": 25.38}
    ]
  },
  "layer": [
    {
      "layer": [
        {
          "data": {"name": "obs"},
          "mark": {"type": "rule", "color": "black", "strokeWidth": 3.3, "strokeCap": "round"},
          "encoding": {
            "x": {"field": "ds", "type": "temporal", "title": "Date",
              "scale": {"type": "utc", "nice": false, "domain": [{"year": 2014, "month": 7, "date": 27, "utc": true}, {"year": 2024, "month": 5, "date": 13, "utc": true}]},
              "axis": {"title": "Date", "format": "%Y", "grid": true, "labelPadding": 1, "titlePadding": 0,
                "values": [{"year": 2015, "utc": true}, {"year": 2016, "utc": true}, {"year": 2017, "utc": true}, {"year": 2018, "utc": true}, {"year": 2019, "utc": true}, {"year": 2020, "utc": true}, {"year": 2021, "utc": true}, {"year": 2022, "utc": true}, {"year": 2023, "utc": true}, {"year": 2024, "utc": true}]}},
            "y": {"field": "y_min", "type": "quantitative", "title": "Sal(psu)",
              "scale": {"domain": [24.37, 36.86], "nice": false, "zero": false},
              "axis": {"title": "Sal(psu)", "values": [26, 28, 30, 32, 34, 36], "grid": true, "labelPadding": 4, "titlePadding": 4}},
            "y2": {"field": "y_max"}
          }
        },
        {
          "data": {"name": "pts"},
          "mark": {"type": "point", "filled": true, "color": "black", "size": 13, "opacity": 1},
          "encoding": {
            "x": {"field": "ds", "type": "temporal", "title": "Date"},
            "y": {"field": "y", "type": "quantitative", "title": "Sal(psu)"}
          }
        },
        {
          "data": {"name": "fcst"},
          "mark": {"type": "line", "color": "#0072B2", "strokeWidth": 1.4, "interpolate": "monotone"},
          "encoding": {
            "x": {"field": "ds", "type": "temporal", "title": "Date"},
            "y": {"field": "yhat", "type": "quantitative", "title": "Sal(psu)"}
          }
        },
        {
          "data": {"name": "fcst"},
          "mark": {"type": "line", "color": "#222222", "strokeWidth": 1.3, "strokeDash": [5, 3]},
          "encoding": {
            "x": {"field": "ds", "type": "temporal", "title": "Date"},
            "y": {"field": "cap", "type": "quantitative", "title": "Sal(psu)"}
          }
        },
        {
          "data": {"name": "fcst"},
          "mark": {"type": "area", "color": "#0072B2", "opacity": 0.2, "interpolate": "monotone"},
          "encoding": {
            "x": {"field": "ds", "type": "temporal", "title": "Date"},
            "y": {"field": "yhat_lower", "type": "quantitative", "title": "Sal(psu)"},
            "y2": {"field": "yhat_upper"}
          }
        },
        {
          "data": {"values": [{}]},
          "mark": {"type": "point", "shape": "circle", "size": 3019, "filled": false, "stroke": "#f2f20a", "strokeWidth": 2.6, "opacity": 1},
          "encoding": {
            "x": {"datum": {"year": 2017, "month": 4, "date": 4, "utc": true}, "type": "temporal"},
            "y": {"datum": 34.7, "type": "quantitative"}
          }
        },
        {
          "data": {"values": [{}]},
          "mark": {"type": "rule", "color": "#f2f20a", "strokeWidth": 1.5},
          "encoding": {
            "x": {"datum": {"year": 2017, "month": 9, "date": 25, "utc": true}, "type": "temporal"},
            "y": {"datum": 35.55, "type": "quantitative"},
            "x2": {"datum": {"year": 2018, "month": 10, "date": 27, "utc": true}},
            "y2": {"datum": 37.07}
          }
        },
        {
          "data": {"values": [{}]},
          "mark": {"type": "point", "shape": "triangle-right", "filled": true, "color": "#f2f20a", "size": 120, "angle": -29, "opacity": 1},
          "encoding": {
            "x": {"datum": {"year": 2018, "month": 11, "date": 16, "utc": true}, "type": "temporal"},
            "y": {"datum": 37.14, "type": "quantitative"}
          }
        }
      ]
    },
    {
      "layer": [
        {
          "data": {"values": [{}]},
          "mark": {"type": "rect", "fill": "white", "stroke": null},
          "encoding": {
            "x": {"datum": {"year": 2017, "month": 2, "date": 1, "utc": true}, "type": "temporal", "axis": null,
              "scale": {"type": "utc", "nice": false, "domain": [{"year": 2017, "month": 2, "date": 1, "utc": true}, {"year": 2017, "month": 10, "date": 1, "utc": true}], "range": [237, 337]}},
            "x2": {"datum": {"year": 2017, "month": 10, "date": 1, "utc": true}},
            "y": {"datum": 33.55, "type": "quantitative", "axis": null,
              "scale": {"domain": [33.55, 35.56], "range": [22, -104], "clamp": true, "nice": false, "zero": false}},
            "y2": {"datum": 35.56}
          }
        },
        {
          "data": {"name": "obs"},
          "transform": [{"filter": {"field": "ds", "range": [{"year": 2017, "month": 2, "date": 1, "utc": true}, {"year": 2017, "month": 10, "date": 1, "utc": true}]}}],
          "mark": {"type": "rule", "color": "black", "strokeWidth": 7},
          "encoding": {
            "x": {"field": "ds", "type": "temporal", "axis": null},
            "y": {"field": "y_min", "type": "quantitative", "axis": null},
            "y2": {"field": "y_max"}
          }
        },
        {
          "data": {"name": "fcst"},
          "transform": [{"filter": {"field": "ds", "range": [{"year": 2017, "month": 2, "date": 1, "utc": true}, {"year": 2017, "month": 10, "date": 1, "utc": true}]}}],
          "mark": {"type": "line", "color": "#0072B2", "strokeWidth": 2.6},
          "encoding": {
            "x": {"field": "ds", "type": "temporal", "axis": null},
            "y": {"field": "yhat", "type": "quantitative", "axis": null}
          }
        },
        {
          "data": {"name": "fcst"},
          "transform": [{"filter": {"field": "ds", "range": [{"year": 2017, "month": 2, "date": 1, "utc": true}, {"year": 2017, "month": 10, "date": 1, "utc": true}]}}],
          "mark": {"type": "line", "color": "#111111", "strokeWidth": 2.6, "strokeDash": [9, 5]},
          "encoding": {
            "x": {"field": "ds", "type": "temporal", "axis": null},
            "y": {"field": "cap", "type": "quantitative", "axis": null}
          }
        },
        {
          "data": {"name": "fcst"},
          "transform": [{"filter": {"field": "ds", "range": [{"year": 2017, "month": 2, "date": 1, "utc": true}, {"year": 2017, "month": 10, "date": 1, "utc": true}]}}],
          "mark": {"type": "area", "color": "#0072B2", "opacity": 0.2},
          "encoding": {
            "x": {"field": "ds", "type": "temporal", "axis": null},
            "y": {"field": "yhat_lower", "type": "quantitative", "axis": null},
            "y2": {"field": "yhat_upper"}
          }
        },
        {
          "data": {"values": [{}]},
          "mark": {"type": "rect", "fill": null, "fillOpacity": 0, "stroke": "#f2f20a", "strokeWidth": 3},
          "encoding": {
            "x": {"datum": {"year": 2017, "month": 2, "date": 1, "utc": true}, "type": "temporal", "axis": null},
            "x2": {"datum": {"year": 2017, "month": 10, "date": 1, "utc": true}},
            "y": {"datum": 33.55, "type": "quantitative", "axis": null},
            "y2": {"datum": 35.56}
          }
        }
      ]
    }
  ],
  "resolve": {"scale": {"x": "independent", "y": "independent"}, "axis": {"x": "independent", "y": "independent"}}
}
